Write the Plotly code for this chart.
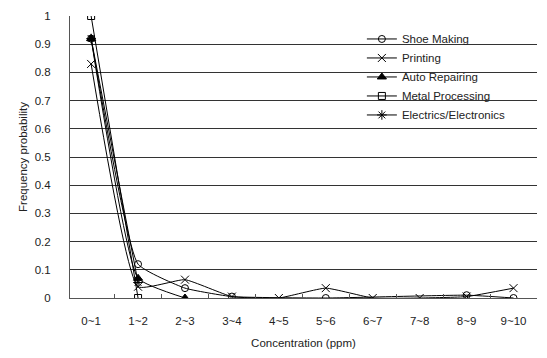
import plotly.graph_objects as go

categories = ["0~1", "1~2", "2~3", "3~4", "4~5", "5~6", "6~7", "7~8", "8~9", "9~10"]
shoe_making = [0.92, 0.12, 0.035, 0.005, None, 0.0, None, None, 0.01, 0.0]
printing = [0.83, 0.04, 0.065, 0.005, 0.0, 0.035, 0.0, 0.0, 0.005, 0.035]
auto_repairing = [0.92, 0.07, 0.0, None, None, None, None, None, None, None]
metal_processing = [1.0, 0.0, None, None, None, None, None, None, None, None]
electrics = [0.92, 0.055, None, None, None, None, None, None, None, None]
y_ticks = [0, 0.1, 0.2, 0.3, 0.4, 0.5, 0.6, 0.7, 0.8, 0.9, 1]

series = [
    ("Shoe Making", shoe_making, "circle-open", 7),
    ("Printing", printing, "x-thin-open", 8),
    ("Auto Repairing", auto_repairing, "triangle-up", 8),
    ("Metal Processing", metal_processing, "square-open", 7),
    ("Electrics/Electronics", electrics, "asterisk-open", 8),
]

fig = go.Figure()
for name, vals, sym, size in series:
    fig.add_trace(go.Scatter(
        x=categories, y=vals, name=name, mode="lines+markers",
        connectgaps=True,
        line=dict(color="black", width=1, shape="spline", smoothing=0.4),
        marker=dict(symbol=sym, size=size, color="black",
                    line=dict(color="black", width=1)),
    ))

font = "Liberation Sans, Arial, sans-serif"
fig.update_layout(
    width=547, height=358,
    margin=dict(l=70, r=10, t=12, b=59),
    paper_bgcolor="white", plot_bgcolor="white",
    font=dict(family=font, size=11, color="#222"),
    legend=dict(x=0.625, y=0.97, xanchor="left", yanchor="top",
                bgcolor="rgba(255,255,255,0)", font=dict(size=11.5),
                tracegroupgap=0, itemwidth=30),
    xaxis=dict(
        type="category", range=[-0.45, 9.5],
        showline=True, linecolor="#555", linewidth=1,
        ticks="inside", tickson="boundaries", ticklen=4, tickcolor="#555",
        showgrid=False, zeroline=False, ticklabelstandoff=12,
        title=dict(text="Concentration (ppm)", standoff=13, font=dict(size=11.5)),
        tickfont=dict(size=11.5),
    ),
    yaxis=dict(
        range=[0, 1], tickvals=y_ticks, ticktext=[str(v) for v in y_ticks],
        showline=True, linecolor="#555", linewidth=1,
        showgrid=True, gridcolor="#333", gridwidth=1, zeroline=False,
        ticks="", ticklabelstandoff=16,
        title=dict(text="Frequency probability", standoff=4, font=dict(size=11.5)),
        tickfont=dict(size=11.5),
    ),
)

fig.write_html("out.html")
